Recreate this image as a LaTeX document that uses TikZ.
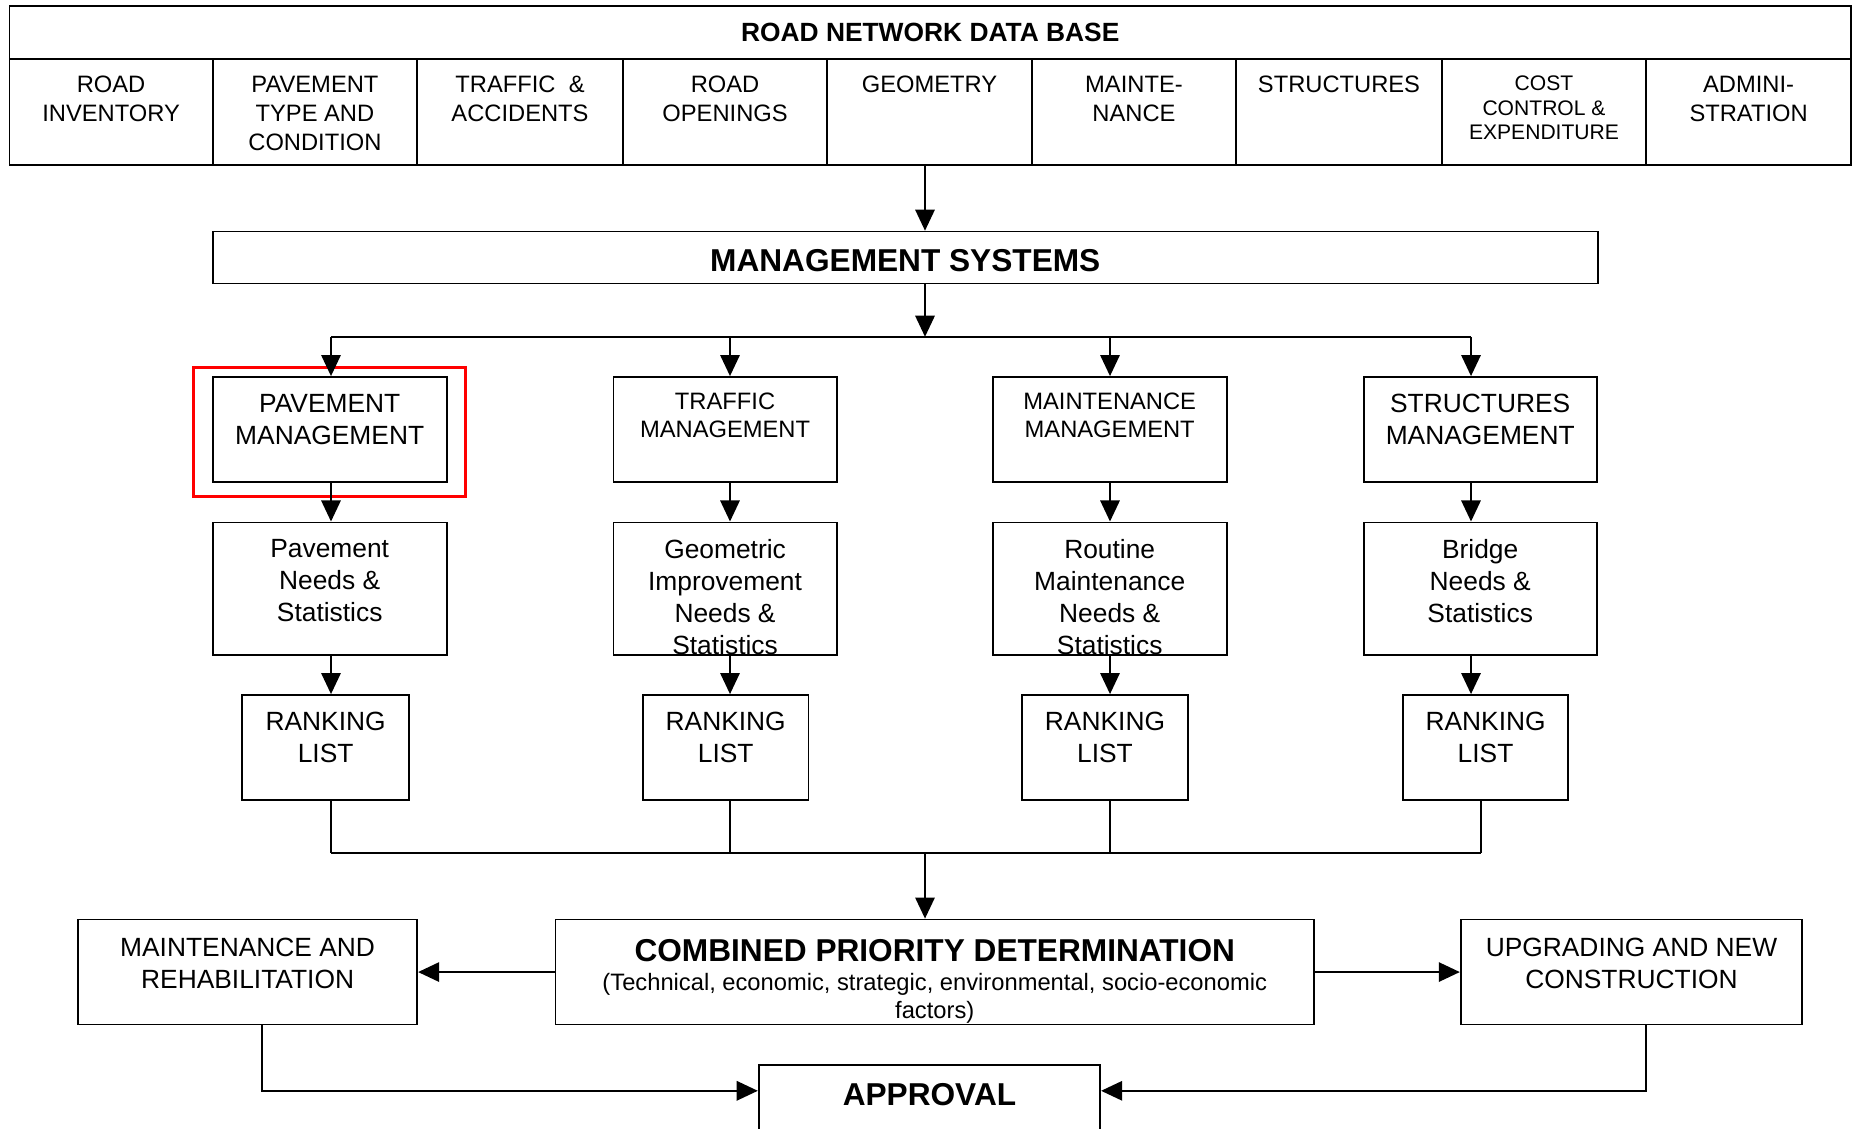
\documentclass[tikz,border=0pt]{standalone}
\usepackage{fontspec}
\setmainfont{Liberation Sans}
\usetikzlibrary{positioning,fit,arrows.meta}

% Font sizes used in the chart
\newcommand{\fsHead}{\fontsize{15}{18}\selectfont\bfseries}
\newcommand{\fsBig}{\fontsize{18}{21}\selectfont\bfseries}
\newcommand{\fsCell}{\fontsize{13.5}{16.5}\selectfont}
\newcommand{\fsCost}{\fontsize{12}{14.1}\selectfont}
\newcommand{\fsBox}{\fontsize{15}{18.2}\selectfont}
\newcommand{\fsMid}{\fontsize{13.5}{16}\selectfont}
\newcommand{\fsNote}{\fontsize{13.5}{15.8}\selectfont}

\tikzset{
  box/.style={draw, line width=1pt, inner sep=0pt},
  hilite/.style={draw=red, line width=1.8pt, inner sep=0pt},
  txt/.style={align=center, inner sep=0pt},
  conn/.style={line width=1.2pt},
  flow/.style={conn, -{Triangle[length=12pt,width=11pt]}},
}

\begin{document}
\begin{tikzpicture}[x=0.2mm, y=-0.2mm]

    % Page the size of the reference (units are pixels, y runs down)
    \useasboundingbox (0,0) rectangle (1853,1129);

    % Helper coordinates for the spine, the columns and the bus lines
    \coordinate (spine) at (925,0);
    \coordinate (col1) at (331,0);
    \coordinate (col2) at (730,0);
    \coordinate (col3) at (1110,0);
    \coordinate (col4) at (1471,0);
    \coordinate (col4b) at (1481,0);
    \coordinate (busA) at (0,336.8);
    \coordinate (busB) at (0,853.3);
    \coordinate (apin) at (0,1090.8);

    % Road network data base: title row
    \node[box, fit={(9.5,6) (1851,59)}] (db) {};
    \node[txt, font=\fsHead] (dbt) at (db.center) {ROAD NETWORK DATA BASE};

    % The nine cells of the data base
    \node[box, fit={(9.5,59) (212.7,165)}] (inv) {};
    \node[box, fit={(212.7,59) (417.2,165)}] (ptc) {};
    \node[box, fit={(417.2,59) (622.8,165)}] (tra) {};
    \node[box, fit={(622.8,59) (827.3,165)}] (rop) {};
    \node[box, fit={(827.3,59) (1031.7,165)}] (geo) {};
    \node[box, fit={(1031.7,59) (1236.2,165)}] (mnt) {};
    \node[box, fit={(1236.2,59) (1441.8,165)}] (str) {};
    \node[box, fit={(1441.8,59) (1646.2,165)}] (cst) {};
    \node[box, fit={(1646.2,59) (1851,165)}] (adm) {};

    % Cell texts, hung from the top of each cell
    \node[txt, font=\fsCell, below=10.2pt of inv.north] (invt) {ROAD\\INVENTORY};
    \node[txt, font=\fsCell, below=10.2pt of ptc.north] (ptct) {PAVEMENT\\TYPE AND\\CONDITION};
    \node[txt, font=\fsCell, below=10.2pt of tra.north] (trat) {TRAFFIC~~\&\\ACCIDENTS};
    \node[txt, font=\fsCell, below=10.2pt of rop.north] (ropt) {ROAD\\OPENINGS};
    \node[txt, font=\fsCell, below=10.2pt of geo.north] (geot) {GEOMETRY};
    \node[txt, font=\fsCell, below=10.2pt of mnt.north] (mntt) {MAINTE-\\NANCE};
    \node[txt, font=\fsCell, below=10.2pt of str.north] (strt) {STRUCTURES};
    \node[txt, font=\fsCost, below=9.7pt of cst.north] (cstt) {COST\\CONTROL \&\\EXPENDITURE};
    \node[txt, font=\fsCell, below=10.2pt of adm.north] (admt) {ADMINI-\\STRATION};

    % Management systems bar
    \node[box, fit={(212.7,231.6) (1597.8,283.6)}] (ms) {};
    \node[txt, font=\fsBig] (mst) at ([yshift=-1.5pt]ms.center) {MANAGEMENT SYSTEMS};
    \draw[flow] (spine |- geo.south) -- (spine |- ms.north);

    % The four management boxes
    \node[box, fit={(212.7,377) (446.7,482)}] (pm) {};
    \node[box, fit={(613.4,377) (836.7,482)}] (tm) {};
    \node[box, fit={(992.7,377) (1226.7,482)}] (mm) {};
    \node[box, fit={(1363.8,377) (1596.6,482)}] (sm) {};
    \node[txt, font=\fsBox, below=10.2pt of pm.north] (pmt) {PAVEMENT\\MANAGEMENT};
    \node[txt, font=\fsMid, below=9.4pt of tm.north] (tmt) {TRAFFIC\\MANAGEMENT};
    \node[txt, font=\fsMid, below=9.4pt of mm.north] (mmt) {MAINTENANCE\\MANAGEMENT};
    \node[txt, font=\fsBox, below=10.2pt of sm.north] (smt) {STRUCTURES\\MANAGEMENT};

    % Red frame round the pavement box
    \node[hilite, fit={(193.8,367.5) (465.6,496.4)}] (focus) {};

    % Bus from management systems to the four boxes
    \draw[flow] (spine |- ms.south) -- (spine |- busA);
    \draw[conn] (col1 |- busA) -- (col4 |- busA);
    \draw[flow] (col1 |- busA) -- (col1 |- pm.north);
    \draw[flow] (col2 |- busA) -- (col2 |- tm.north);
    \draw[flow] (col3 |- busA) -- (col3 |- mm.north);
    \draw[flow] (col4 |- busA) -- (col4 |- sm.north);

    % Needs and statistics boxes
    \node[box, fit={(212.7,522.4) (446.7,654.7)}] (pn) {};
    \node[box, fit={(613.4,522.4) (836.7,654.7)}] (gn) {};
    \node[box, fit={(992.7,522.4) (1226.7,654.7)}] (rn) {};
    \node[box, fit={(1363.8,522.4) (1596.6,654.7)}] (bn) {};
    \node[txt, font=\fsBox, below=10pt of pn.north] (pnt) {Pavement\\Needs \&\\Statistics};
    \node[txt, font=\fsBox, below=10pt of gn.north] (gnt) {Geometric\\Improvement\\Needs \&\\Statistics};
    \node[txt, font=\fsBox, below=10pt of rn.north] (rnt) {Routine\\Maintenance\\Needs \&\\Statistics};
    \node[txt, font=\fsBox, below=10pt of bn.north] (bnt) {Bridge\\Needs \&\\Statistics};
    \draw[flow] (col1 |- pm.south) -- (col1 |- pn.north);
    \draw[flow] (col2 |- tm.south) -- (col2 |- gn.north);
    \draw[flow] (col3 |- mm.south) -- (col3 |- rn.north);
    \draw[flow] (col4 |- sm.south) -- (col4 |- bn.north);

    % Ranking lists
    \node[box, fit={(242.3,695) (408.9,800)}] (r1) {};
    \node[box, fit={(643,695) (808.4,800)}] (r2) {};
    \node[box, fit={(1022.3,695) (1187.7,800)}] (r3) {};
    \node[box, fit={(1402.8,695) (1568.3,800)}] (r4) {};
    \node[txt, font=\fsBox, below=10pt of r1.north] (r1t) {RANKING\\LIST};
    \node[txt, font=\fsBox, below=10pt of r2.north] (r2t) {RANKING\\LIST};
    \node[txt, font=\fsBox, below=10pt of r3.north] (r3t) {RANKING\\LIST};
    \node[txt, font=\fsBox, below=10pt of r4.north] (r4t) {RANKING\\LIST};
    \draw[flow] (col1 |- pn.south) -- (col1 |- r1.north);
    \draw[flow] (col2 |- gn.south) -- (col2 |- r2.north);
    \draw[flow] (col3 |- rn.south) -- (col3 |- r3.north);
    \draw[flow] (col4 |- bn.south) -- (col4 |- r4.north);

    % Lower bus collecting the ranking lists
    \draw[conn] (col1 |- r1.south) -- (col1 |- busB);
    \draw[conn] (col2 |- r2.south) -- (col2 |- busB);
    \draw[conn] (col3 |- r3.south) -- (col3 |- busB);
    \draw[conn] (col4b |- r4.south) -- (col4b |- busB);
    \draw[conn] (col1 |- busB) -- (col4b |- busB);

    % Combined priority determination and its two outcomes
    \node[box, fit={(555.4,919.5) (1314.1,1024.6)}] (cpd) {};
    \node[txt, font=\fsBig, below=11.7pt of cpd.north] (cpdt) {COMBINED PRIORITY DETERMINATION};
    \node[txt, font=\fsNote, below=31pt of cpd.north] (cpdn)
        {(Technical, economic, strategic, environmental, socio-economic\\factors)};
    \node[box, fit={(78,919.5) (417.2,1024.6)}] (mr) {};
    \node[box, fit={(1460.7,919.5) (1802.2,1024.6)}] (un) {};
    \node[txt, font=\fsBox, below=10.8pt of mr.north] (mrt) {MAINTENANCE AND\\REHABILITATION};
    \node[txt, font=\fsBox, below=10.8pt of un.north] (unt) {UPGRADING AND NEW\\CONSTRUCTION};
    \draw[flow] (spine |- busB) -- (spine |- cpd.north);
    \draw[flow] (cpd.west) -- (mr.east);
    \draw[flow] (cpd.east) -- (un.west);

    % Approval (runs off the bottom of the page)
    \node[box, fit={(758.7,1064.8) (1100.2,1160)}] (ap) {};
    \node[txt, font=\fsBig, below=10.9pt of ap.north] (apt) {APPROVAL};
    \draw[flow] ([xshift=8.4pt]mr.south) |- (ap.west |- apin);
    \draw[flow] ([xshift=8.4pt]un.south) |- (ap.east |- apin);

\end{tikzpicture}
\end{document}
